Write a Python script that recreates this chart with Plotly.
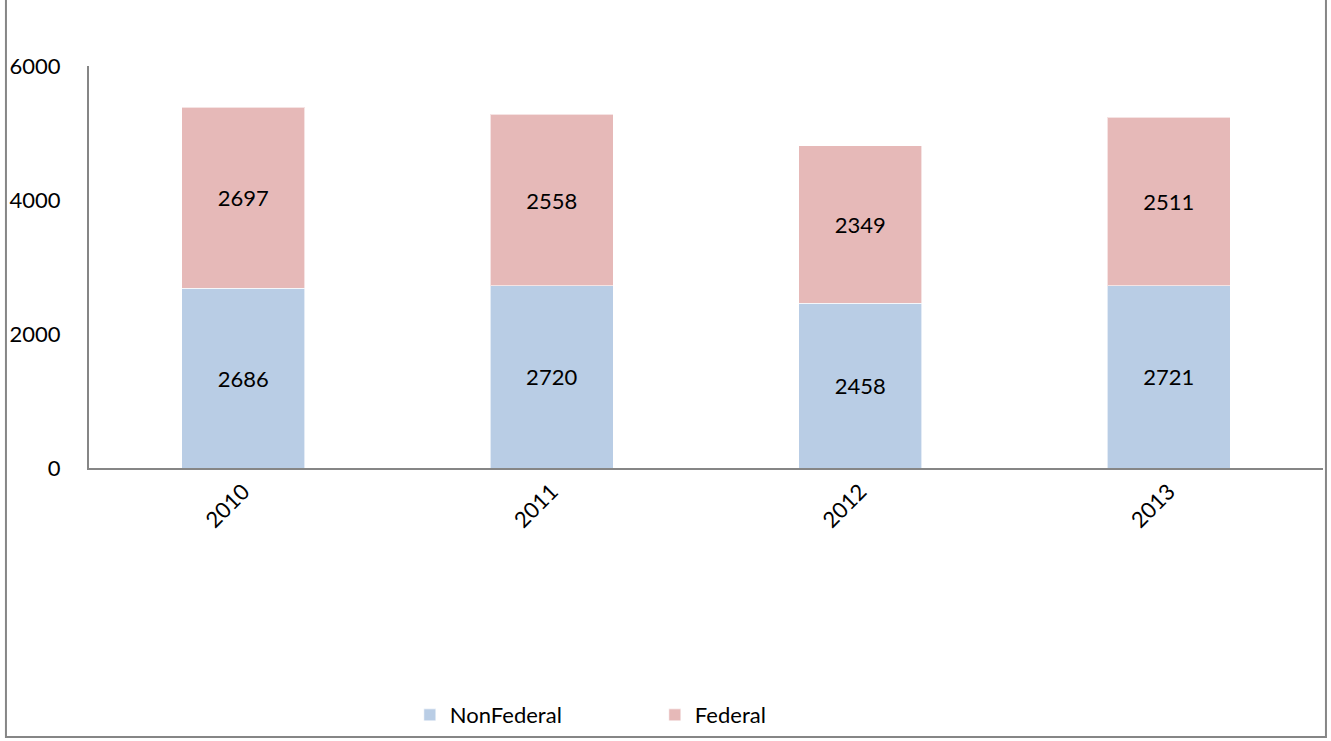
import plotly.graph_objects as go

# Chart data
years = ["2010", "2011", "2012", "2013"]
nonfederal = [2686, 2720, 2458, 2721]
federal = [2697, 2558, 2349, 2511]

font_family = "Lato, Calibri, sans-serif"

fig = go.Figure()
fig.add_trace(go.Bar(
    x=years, y=nonfederal, name="NonFederal",
    marker=dict(color="#B9CDE5", line=dict(color="rgba(255,255,255,0.6)", width=1)),
    text=nonfederal, textposition="inside", insidetextanchor="middle",
    textfont=dict(size=22, color="black", family=font_family),
))
fig.add_trace(go.Bar(
    x=years, y=federal, name="Federal",
    marker=dict(color="#E6B9B8", line=dict(color="rgba(255,255,255,0.6)", width=1)),
    text=federal, textposition="inside", insidetextanchor="middle",
    textfont=dict(size=22, color="black", family=font_family),
))

fig.update_layout(
    barmode="stack",
    bargap=0.6,
    width=1331, height=741,
    margin=dict(l=89, r=8, t=66, b=273),
    paper_bgcolor="white", plot_bgcolor="white",
    font=dict(family=font_family, size=22, color="black"),
    showlegend=True,
    legend=dict(
        orientation="h", x=0.26, xanchor="left",
        y=0.035, yref="container", yanchor="middle",
        traceorder="normal", entrywidth=200, entrywidthmode="pixels",
        bgcolor="rgba(0,0,0,0)", font=dict(size=22),
    ),
)
fig.update_xaxes(
    showline=True, linecolor="#868686", linewidth=2, ticks="",
    tickangle=-45, showgrid=False,
)
fig.update_yaxes(
    range=[0, 6000], tickvals=[0, 2000, 4000, 6000],
    showline=True, linecolor="#868686", linewidth=2, ticks="",
    showgrid=False, zeroline=False, ticklabelstandoff=22,
)

# outer chart border (top edge is off-page in the reference)
fig.add_shape(type="path", xref="paper", yref="paper",
              path="M -0.0673,1.3 L -0.0673,-0.669 L 1.0024,-0.669 L 1.0024,1.3",
              line=dict(color="#868686", width=2))

fig.write_html(
    "out.html", config={"displayModeBar": False},
    post_script="document.body.style.margin='0';"
                "document.documentElement.style.overflow='hidden';"
                "window.scrollTo(0,0);",
)
